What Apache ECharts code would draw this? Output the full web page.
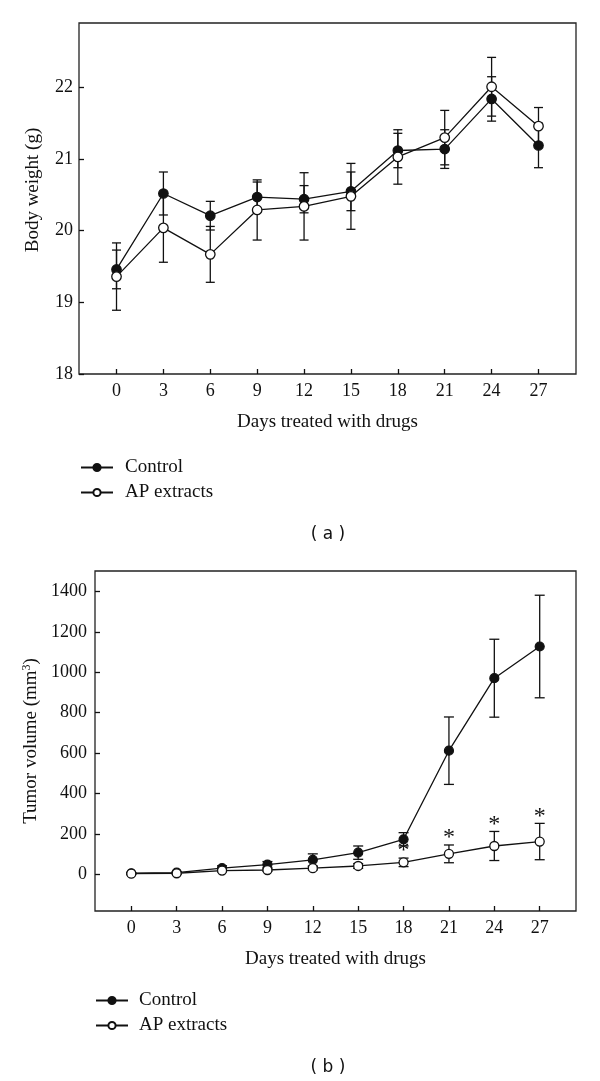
<!DOCTYPE html>
<html>
<head>
<meta charset="utf-8">
<script src="https://cdn.jsdelivr.net/npm/echarts@6/dist/echarts.min.js"></script>
<style>html,body{margin:0;padding:0;background:#fff}#chart{width:600px;height:1081px}</style>
</head>
<body>
<div id="chart"></div>
<script>
// ---- data ----
const days = [0, 3, 6, 9, 12, 15, 18, 21, 24, 27];
const dayTicks = [0, 3, 6, 9, 12, 15, 18, 21, 24, 27];
const weightTicks = [18, 19, 20, 21, 22];
const tumorTicks = [0, 200, 400, 600, 800, 1000, 1200, 1400];

const weightControl    = [19.46, 20.52, 20.21, 20.47, 20.44, 20.55, 21.12, 21.14, 21.84, 21.19];
const weightControlErr = [0.27, 0.30, 0.20, 0.21, 0.19, 0.27, 0.24, 0.27, 0.31, 0.31];
const weightAP         = [19.36, 20.04, 19.67, 20.29, 20.34, 20.48, 21.03, 21.30, 22.01, 21.46];
const weightAPErr      = [0.47, 0.48, 0.39, 0.42, 0.47, 0.46, 0.38, 0.38, 0.41, 0.26];

const tumorControl    = [5, 8, 30, 48, 71, 107, 173, 612, 971, 1128];
const tumorControlErr = [3, 5, 12, 15, 30, 33, 33, 167, 193, 254];
const tumorAP         = [3, 5, 18, 21, 30, 41, 59, 101, 140, 162];
const tumorAPErr      = [2, 3, 6, 6, 8, 12, 21, 44, 72, 90];

const asteriskDays = [18, 21, 24, 27];

// ---- helpers ----
const SERIF = '"Liberation Serif", "DejaVu Serif", serif';
const INK = '#111';

function pairs(xs, ys) { return xs.map((x, i) => [x, ys[i]]); }
function errData(xs, m, e) { return xs.map((x, i) => [x, m[i] - e[i], m[i] + e[i]]); }

function errRender(capHalf) {
  return function (params, api) {
    const x = api.value(0), lo = api.value(1), hi = api.value(2);
    const p1 = api.coord([x, hi]);
    const p2 = api.coord([x, lo]);
    const st = { stroke: INK, lineWidth: 1.3 };
    return {
      type: 'group',
      children: [
        { type: 'line', shape: { x1: p1[0], y1: p1[1], x2: p2[0], y2: p2[1] }, style: st },
        { type: 'line', shape: { x1: p1[0] - capHalf, y1: p1[1], x2: p1[0] + capHalf, y2: p1[1] }, style: st },
        { type: 'line', shape: { x1: p2[0] - capHalf, y1: p2[1], x2: p2[0] + capHalf, y2: p2[1] }, style: st }
      ]
    };
  };
}

function xAxisCfg(gridIndex, gap) {
  return {
    type: 'value', gridIndex: gridIndex, min: -2.4, max: 29.4,
    name: 'Days treated with drugs', nameLocation: 'middle', nameGap: gap,
    nameTextStyle: { fontFamily: SERIF, fontSize: 19, color: INK },
    axisLine: { show: false, onZero: false },
    axisTick: { show: true, inside: true, length: 5, customValues: dayTicks, lineStyle: { color: INK, width: 1.3 } },
    axisLabel: { customValues: dayTicks, margin: 8, fontFamily: SERIF, fontSize: 18, color: INK },
    splitLine: { show: false }
  };
}

const plain = v => String(v);

const option = {
  backgroundColor: '#fff',
  animation: false,
  title: [
    { text: '( a )', left: 323, top: 521, textAlign: 'center',
      textStyle: { fontFamily: '"DejaVu Sans", sans-serif', fontWeight: 'normal', fontSize: 17, color: INK } },
    { text: '( b )', left: 323, top: 1054, textAlign: 'center',
      textStyle: { fontFamily: '"DejaVu Sans", sans-serif', fontWeight: 'normal', fontSize: 17, color: INK } }
  ],
  legend: [
    { data: ['Control', 'AP extracts'], orient: 'vertical', left: 80, top: 458, padding: 0, itemWidth: 32, itemHeight: 9, itemGap: 6,
      textStyle: { fontFamily: SERIF, fontSize: 19, color: INK, padding: [0, 0, 0, 7] }, selectedMode: false },
    { data: ['Control', 'AP extracts'], orient: 'vertical', left: 95, top: 991, padding: 0, itemWidth: 32, itemHeight: 9, itemGap: 6,
      textStyle: { fontFamily: SERIF, fontSize: 19, color: INK, padding: [0, 0, 0, 6] }, selectedMode: false }
  ],
  grid: [
    { left: 79, top: 23, width: 497, height: 351, show: true, borderColor: '#222', borderWidth: 1.3, backgroundColor: 'transparent' },
    { left: 95, top: 571, width: 481, height: 340, show: true, borderColor: '#222', borderWidth: 1.3, backgroundColor: 'transparent' }
  ],
  xAxis: [xAxisCfg(0, 39), xAxisCfg(1, 39)],
  yAxis: [
    {
      type: 'value', gridIndex: 0, min: 18, max: 22.9,
      name: 'Body weight (g)', nameLocation: 'middle', nameGap: 36, nameRotate: 90,
      nameTextStyle: { fontFamily: SERIF, fontSize: 19, color: INK, padding: [0, 0, 0, 17] },
      axisLine: { show: false, onZero: false },
      axisTick: { show: true, inside: true, length: 5, customValues: weightTicks, lineStyle: { color: INK, width: 1.3 } },
      axisLabel: { customValues: weightTicks, margin: 6, fontFamily: SERIF, fontSize: 18, color: INK, formatter: plain },
      splitLine: { show: false }
    },
    {
      type: 'value', gridIndex: 1, min: -182, max: 1502,
      name: 'Tumor volume (mm{sup|3})', nameLocation: 'middle', nameGap: 50, nameRotate: 90,
      nameTextStyle: { fontFamily: SERIF, fontSize: 19, color: INK,
        rich: { sup: { fontFamily: SERIF, fontSize: 12, color: INK, verticalAlign: 'top', padding: [0, 0, 8, 0] } } },
      axisLine: { show: false, onZero: false },
      axisTick: { show: true, inside: true, length: 5, customValues: tumorTicks, lineStyle: { color: INK, width: 1.3 } },
      axisLabel: { customValues: tumorTicks, margin: 8, fontFamily: SERIF, fontSize: 18, color: INK, formatter: plain },
      splitLine: { show: false }
    }
  ],
  series: [
    // panel a error bars
    { type: 'custom', name: 'errA1', xAxisIndex: 0, yAxisIndex: 0, z: 1, renderItem: errRender(4.5),
      encode: { x: 0, y: [1, 2] }, data: errData(days, weightControl, weightControlErr) },
    { type: 'custom', name: 'errA2', xAxisIndex: 0, yAxisIndex: 0, z: 1, renderItem: errRender(4.5),
      encode: { x: 0, y: [1, 2] }, data: errData(days, weightAP, weightAPErr) },
    // panel a lines
    { type: 'line', name: 'Control', xAxisIndex: 0, yAxisIndex: 0, z: 3, data: pairs(days, weightControl),
      symbol: 'circle', symbolSize: 9.5, lineStyle: { color: INK, width: 1.3 },
      itemStyle: { color: INK, borderColor: INK, borderWidth: 1.2 } },
    { type: 'line', name: 'AP extracts', xAxisIndex: 0, yAxisIndex: 0, z: 3, data: pairs(days, weightAP),
      symbol: 'circle', symbolSize: 9.5, lineStyle: { color: INK, width: 1.3 },
      itemStyle: { color: '#fff', borderColor: INK, borderWidth: 1.3 } },
    // panel b error bars
    { type: 'custom', name: 'errB1', xAxisIndex: 1, yAxisIndex: 1, z: 1, renderItem: errRender(5),
      encode: { x: 0, y: [1, 2] }, data: errData(days, tumorControl, tumorControlErr) },
    { type: 'custom', name: 'errB2', xAxisIndex: 1, yAxisIndex: 1, z: 1, renderItem: errRender(5),
      encode: { x: 0, y: [1, 2] }, data: errData(days, tumorAP, tumorAPErr) },
    // panel b lines
    { type: 'line', name: 'Control', xAxisIndex: 1, yAxisIndex: 1, z: 3, data: pairs(days, tumorControl),
      symbol: 'circle', symbolSize: 9, lineStyle: { color: INK, width: 1.3 },
      itemStyle: { color: INK, borderColor: INK, borderWidth: 1.2 } },
    { type: 'line', name: 'AP extracts', xAxisIndex: 1, yAxisIndex: 1, z: 3, data: pairs(days, tumorAP),
      symbol: 'circle', symbolSize: 9, lineStyle: { color: INK, width: 1.3 },
      itemStyle: { color: '#fff', borderColor: INK, borderWidth: 1.3 } },
    // significance asterisks
    { type: 'custom', name: 'sig', xAxisIndex: 1, yAxisIndex: 1, z: 4,
      encode: { x: 0, y: 1 },
      data: asteriskDays.map(d => { const i = days.indexOf(d); return [d, tumorAP[i] + tumorAPErr[i]]; }),
      renderItem: function (params, api) {
        const p = api.coord([api.value(0), api.value(1)]);
        return { type: 'text', style: { text: '*', x: p[0], y: p[1] + 5, fontFamily: SERIF, fontSize: 24,
          fill: INK, textAlign: 'center', textVerticalAlign: 'bottom' } };
      } }
  ]
};

const chart = echarts.init(document.getElementById('chart'), null, { renderer: 'canvas' });
chart.setOption(option);
</script>
</body>
</html>
